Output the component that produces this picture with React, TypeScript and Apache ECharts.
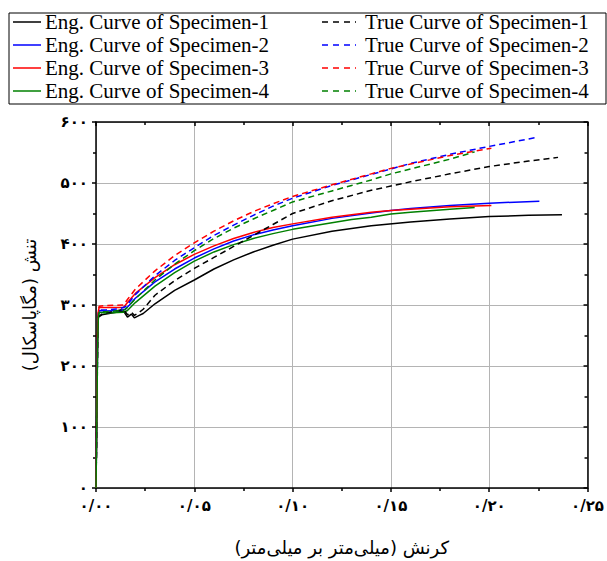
import { useEffect, useRef } from "react";
import * as echarts from "echarts";

// Engineering curves (strain, stress MPa)
const eng1: number[][] = [[0,0],[0.0004,130],[0.0008,250],[0.0012,280],[0.003,284],[0.008,287],[0.014,290],[0.016,280],[0.018,285],[0.0195,279],[0.022,283],[0.024,286],[0.03,302],[0.04,324],[0.05,341],[0.06,359],[0.07,374],[0.08,387],[0.09,398],[0.1,408],[0.12,421],[0.14,430],[0.16,436],[0.18,441],[0.2,445],[0.22,447],[0.237,448]];
const eng2: number[][] = [[0,0],[0.0004,110],[0.0008,240],[0.0012,285],[0.0016,291],[0.005,290],[0.012,291],[0.015,293],[0.017,300],[0.02,311],[0.03,338],[0.04,359],[0.05,377],[0.06,392],[0.07,405],[0.08,415],[0.09,423],[0.1,430],[0.12,442],[0.14,451],[0.15,455],[0.16,458],[0.18,463],[0.2,467],[0.2255,470]];
const eng3: number[][] = [[0,0],[0.0004,120],[0.0008,250],[0.0012,290],[0.0016,296],[0.005,296],[0.014,296],[0.016,304],[0.02,319],[0.03,345],[0.04,366],[0.05,383],[0.06,397],[0.07,409],[0.08,419],[0.09,427],[0.1,433],[0.12,444],[0.14,452],[0.15,455],[0.16,457],[0.18,461],[0.2011,463]];
const eng4: number[][] = [[0,0],[0.0004,100],[0.0008,230],[0.0012,280],[0.0016,288],[0.005,287],[0.014,288],[0.016,291],[0.02,304],[0.03,331],[0.04,353],[0.05,372],[0.06,387],[0.07,399],[0.08,409],[0.09,417],[0.1,424],[0.12,435],[0.13,440],[0.14,444],[0.15,449],[0.16,452],[0.18,457],[0.1926,460]];

// True curves
const true1: number[][] = [[0,0],[0.0004,130],[0.0008,250],[0.0012,281],[0.003,285],[0.008,289],[0.014,293],[0.016,284],[0.018,288],[0.0195,283],[0.022,288],[0.024,293],[0.03,316],[0.04,340],[0.05,360],[0.06,378],[0.07,396],[0.08,414],[0.09,432],[0.1,450],[0.12,471],[0.14,488],[0.15,495],[0.16,502],[0.18,515],[0.2,527],[0.22,536],[0.235,542]];
const true2: number[][] = [[0,0],[0.0004,110],[0.0008,240],[0.0012,285],[0.0016,292],[0.005,292],[0.012,294],[0.015,297],[0.017,305],[0.02,317],[0.03,348],[0.04,373],[0.05,394],[0.06,414],[0.07,431],[0.08,447],[0.09,462],[0.1,475],[0.12,496],[0.14,514],[0.15,523],[0.16,532],[0.18,547],[0.2,560],[0.2246,575]];
const true3: number[][] = [[0,0],[0.0004,120],[0.0008,250],[0.0012,290],[0.0016,298],[0.005,299],[0.014,300],[0.016,309],[0.02,326],[0.03,356],[0.04,381],[0.05,402],[0.06,421],[0.07,438],[0.08,453],[0.09,466],[0.1,478],[0.12,497],[0.14,515],[0.15,524],[0.16,531],[0.18,545],[0.2011,557]];
const true4: number[][] = [[0,0],[0.0004,100],[0.0008,230],[0.0012,280],[0.0016,289],[0.005,289],[0.014,291],[0.016,296],[0.02,310],[0.03,341],[0.04,367],[0.05,389],[0.06,409],[0.07,426],[0.08,441],[0.09,455],[0.1,469],[0.12,487],[0.13,496],[0.14,505],[0.15,515],[0.16,523],[0.18,539],[0.1926,551]];

const engNames = ["Eng. Curve of Specimen-1", "Eng. Curve of Specimen-2", "Eng. Curve of Specimen-3", "Eng. Curve of Specimen-4"];
const trueNames = ["True Curve of Specimen-1", "True Curve of Specimen-2", "True Curve of Specimen-3", "True Curve of Specimen-4"];
const colors = ["#000000", "#0000ff", "#ff0000", "#008000"];

const xTickLabels = ["۰/۰۰", "۰/۰۵", "۰/۱۰", "۰/۱۵", "۰/۲۰", "۰/۲۵"];
const yTickLabels = ["۰", "۱۰۰", "۲۰۰", "۳۰۰", "۴۰۰", "۵۰۰", "۶۰۰"];
const xName = "کرنش (میلی‌متر بر میلی‌متر)";
const yName = "تنش (مگاپاسکال)";

const FA = "DejaVu Sans";
const SERIF = "Liberation Serif";

export default function App() {
  const ref = useRef<HTMLDivElement>(null);
  useEffect(() => {
    if (!ref.current) return;
    const chart = echarts.init(ref.current, null, { renderer: "svg" });
    const engData = [eng1, eng2, eng3, eng4];
    const trueData = [true1, true2, true3, true4];
    const series: any[] = [];
    engData.forEach((d, i) => {
      series.push({
        name: engNames[i], type: "line", data: d, showSymbol: false, symbol: "none",
        lineStyle: { color: colors[i], width: 1.5 }, z: 3,
      });
    });
    trueData.forEach((d, i) => {
      series.push({
        name: trueNames[i], type: "line", data: d, showSymbol: false, symbol: "none",
        lineStyle: { color: colors[i], width: 1.5, type: [6, 4] }, z: 3,
      });
    });
    const rowY = [22, 45, 68, 91];
    const graphics: any[] = [
      { type: "rect", shape: { x: 9, y: 13, width: 597, height: 91 }, style: { fill: "none", stroke: "#000", lineWidth: 1 } },
    ];
    rowY.forEach((y, i) => {
      graphics.push({ type: "line", shape: { x1: 13, y1: y, x2: 41, y2: y }, style: { stroke: colors[i], lineWidth: 1.5 } });
      graphics.push({ type: "text", x: 45, y, style: { text: engNames[i], fontFamily: SERIF, fontSize: 21, fill: "#000", verticalAlign: "middle" } });
      graphics.push({ type: "line", shape: { x1: 322, y1: y, x2: 356, y2: y }, style: { stroke: colors[i], lineWidth: 1.5, lineDash: [6, 5] } });
      graphics.push({ type: "text", x: 365, y, style: { text: trueNames[i], fontFamily: SERIF, fontSize: 21, fill: "#000", verticalAlign: "middle" } });
    });
    chart.setOption({
      animation: false,
      grid: { left: 96, right: 15, top: 122, bottom: 71 },
      graphic: graphics,
      xAxis: [
        {
          type: "value", min: 0, max: 0.25, interval: 0.05, position: "bottom",
          name: xName, nameLocation: "middle", nameGap: 50,
          nameTextStyle: { fontFamily: FA, fontSize: 18, color: "#000" },
          axisLine: { onZero: false, lineStyle: { color: "#000", width: 1.5 } },
          axisTick: { inside: false, length: 4, lineStyle: { color: "#000", width: 1.5 } },
          minorTick: { show: true, splitNumber: 2, length: 3, lineStyle: { color: "#000", width: 1.5 } },
          splitLine: { show: true, lineStyle: { color: "#b4b4b4", width: 1 } },
          axisLabel: {
            margin: 10, fontFamily: FA, fontSize: 15, fontWeight: "bold", color: "#000",
            formatter: (v: number) => xTickLabels[Math.round(v / 0.05)] ?? "",
          },
        },
        {
          type: "value", min: 0, max: 0.25, interval: 0.05, position: "top",
          axisLine: { onZero: false, lineStyle: { color: "#000", width: 1.5 } },
          axisTick: { inside: true, length: 4, lineStyle: { color: "#000", width: 1.5 } },
          minorTick: { show: true, splitNumber: 2, length: 3, lineStyle: { color: "#000", width: 1.5 } },
          splitLine: { show: false }, axisLabel: { show: false },
        },
      ],
      yAxis: [
        {
          type: "value", min: 0, max: 600, interval: 100, position: "left",
          name: yName, nameLocation: "middle", nameGap: 58, nameRotate: 90,
          nameTextStyle: { fontFamily: FA, fontSize: 18, color: "#000" },
          axisLine: { onZero: false, lineStyle: { color: "#000", width: 1.5 } },
          axisTick: { inside: false, length: 4, lineStyle: { color: "#000", width: 1.5 } },
          minorTick: { show: true, splitNumber: 2, length: 3, lineStyle: { color: "#000", width: 1.5 } },
          splitLine: { show: true, lineStyle: { color: "#b4b4b4", width: 1 } },
          axisLabel: {
            margin: 8, fontFamily: FA, fontSize: 15, fontWeight: "bold", color: "#000",
            formatter: (v: number) => yTickLabels[Math.round(v / 100)] ?? "",
          },
        },
        {
          type: "value", min: 0, max: 600, interval: 100, position: "right",
          axisLine: { onZero: false, lineStyle: { color: "#000", width: 1.5 } },
          axisTick: { inside: true, length: 4, lineStyle: { color: "#000", width: 1.5 } },
          minorTick: { show: true, splitNumber: 2, length: 3, lineStyle: { color: "#000", width: 1.5 } },
          splitLine: { show: false }, axisLabel: { show: false },
        },
      ],
      series,
    });
    return () => chart.dispose();
  }, []);
  return <div ref={ref} style={{ width: 607, height: 561, position: "absolute", left: 0, top: 0 }} />;
}
